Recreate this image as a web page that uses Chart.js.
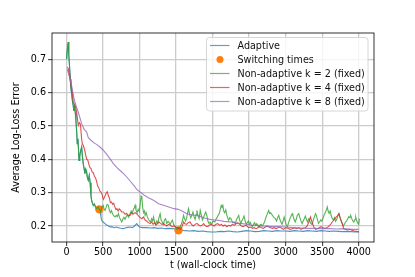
<!DOCTYPE html>
<html>
<head>
<meta charset="utf-8">
<script src="https://cdn.jsdelivr.net/npm/chart.js@4"></script>
<style>
  html, body { margin: 0; padding: 0; background: #fff; }
  #wrap { width: 415px; height: 277px; }
</style>
</head>
<body>
<div id="wrap"><canvas id="chart" width="415" height="277"></canvas></div>
<script>
// ---- data ----
const xTicks = [0, 500, 1000, 1500, 2000, 2500, 3000, 3500, 4000];
const yTicks = [0.2, 0.3, 0.4, 0.5, 0.6, 0.7];

// k = 2 (fixed)
const k2T = [0,10,22,30,40,50,59,68,80,91,100,110,119,128,137,146,155,163,170,180,192,206,218,229,240,251,262,274,285,297,310,322,334,343,355,366,380,395,412,430,448,
  465,480,500,515,526,540,555,572,585,600,615,630,648,663,680,695,710,725,740,755,770,785,800,815,830,850,869,885,900,915,928,938,950,965,980,995,
  1010,1020,1030,1042,1055,1068,1075,1090,1105,1120,1135,1150,1165,1180,1190,1205,1220,1235,1250,1265,1281,1295,1310,1327,1340,1355,1372,1390,1405,1419,1435,1450,1465,1480,1495,
  1510,1525,1540,1555,1570,1585,1602,1615,1630,1645,1658,1670,1685,1700,1715,1730,1745,1760,1775,1785,1800,1815,1830,1845,1860,1875,1890,1905,1922,1935,1950,1965,1980,1995,
  2010,2030,2045,2060,2075,2090,2105,2118,2128,2140,2152,2165,2180,2195,2210,2219,2235,2250,2265,2280,2295,2311,2325,2340,2357,2370,2385,2400,2415,2430,2445,2460,2475,2490,
  2505,2517,2530,2545,2560,2575,2590,2605,2620,2635,2650,2665,2680,2695,2710,2725,2740,2755,2768,2780,2795,2810,2825,2840,2860,2875,2890,2906,2920,2935,2950,2965,2980,2998,
  3010,3025,3040,3055,3070,3089,3100,3115,3130,3145,3160,3180,3195,3210,3226,3240,3255,3270,3285,3300,3318,3330,3345,3360,3375,3390,3409,3420,3435,3450,3465,3480,3495,
  3510,3525,3547,3560,3570,3582,3595,3610,3625,3640,3655,3670,3684,3700,3715,3730,3745,3760,3775,3790,3805,3820,3835,3850,3865,3880,3890,3905,3920,3935,3950,3959,3970,3985,4000,4010];
const k2V = [0.700,0.730,0.752,0.715,0.680,0.640,0.613,0.598,0.575,0.560,0.545,0.558,0.540,0.515,0.487,0.447,0.462,0.430,0.397,0.410,0.425,0.437,0.405,0.385,0.372,0.357,0.370,0.362,0.345,0.337,0.352,0.330,0.290,0.277,0.268,0.262,0.266,0.258,0.252,0.257,0.250,
  0.243,0.255,0.262,0.250,0.247,0.255,0.265,0.262,0.248,0.240,0.246,0.236,0.230,0.227,0.232,0.228,0.237,0.225,0.219,0.212,0.220,0.226,0.220,0.228,0.233,0.226,0.237,0.245,0.238,0.250,0.255,0.262,0.248,0.240,0.250,0.243,
  0.268,0.290,0.287,0.255,0.240,0.245,0.232,0.240,0.228,0.220,0.215,0.212,0.222,0.215,0.227,0.212,0.205,0.215,0.208,0.225,0.237,0.218,0.212,0.205,0.218,0.222,0.208,0.214,0.210,0.205,0.213,0.218,0.205,0.200,0.195,
  0.190,0.196,0.193,0.198,0.205,0.215,0.232,0.222,0.215,0.225,0.240,0.252,0.235,0.225,0.232,0.242,0.228,0.220,0.235,0.247,0.230,0.222,0.247,0.232,0.218,0.225,0.235,0.242,0.230,0.215,0.207,0.212,0.205,0.210,
  0.215,0.212,0.220,0.225,0.232,0.237,0.250,0.262,0.258,0.262,0.245,0.240,0.248,0.232,0.222,0.217,0.225,0.222,0.215,0.210,0.212,0.207,0.218,0.225,0.232,0.218,0.207,0.215,0.222,0.230,0.215,0.205,0.210,0.215,
  0.205,0.210,0.202,0.198,0.205,0.210,0.202,0.207,0.200,0.197,0.203,0.205,0.200,0.205,0.212,0.222,0.232,0.240,0.247,0.238,0.240,0.235,0.230,0.225,0.222,0.215,0.225,0.232,0.220,0.212,0.205,0.215,0.227,0.210,
  0.202,0.198,0.210,0.220,0.228,0.237,0.230,0.220,0.212,0.220,0.232,0.237,0.225,0.215,0.207,0.215,0.222,0.230,0.220,0.212,0.222,0.215,0.207,0.205,0.215,0.225,0.237,0.232,0.220,0.208,0.212,0.218,0.215,
  0.222,0.232,0.242,0.250,0.257,0.245,0.238,0.245,0.230,0.222,0.218,0.225,0.214,0.220,0.230,0.237,0.225,0.215,0.207,0.200,0.205,0.212,0.215,0.222,0.228,0.225,0.232,0.222,0.215,0.212,0.220,0.227,0.218,0.210,0.205,0.222];

// k = 4 (fixed)
const k4T = [10,22,35,46,58,68,80,91,105,120,137,150,160,175,190,206,218,229,245,260,275,290,305,320,335,350,365,380,395,410,425,440,455,470,485,503,515,530,545,556,570,585,
  600,615,630,645,660,675,690,705,720,740,755,777,800,820,845,869,890,910,935,961,985,1010,1030,1052,1075,1095,1120,1144,1165,1185,1205,1225,1245,1265,1285,1305,1327,1350,1373,1395,
  1420,1445,1470,1495,1520,1540,1560,1580,1602,1620,1645,1665,1690,1710,1735,1760,1785,1810,1830,1855,1876,1895,1920,1945,1970,1995,2020,2045,2070,2095,2120,2145,2170,2195,
  2220,2245,2270,2295,2320,2345,2370,2395,2420,2445,2470,2495,2520,2545,2570,2595,2620,2645,2670,2695,2720,2745,2770,2795,2820,2845,2870,2895,2920,2945,2970,3000,3030,3060,
  3090,3120,3150,3180,3210,3240,3270,3295,3318,3340,3360,3386,3410,3435,3460,3485,3510,3535,3560,3585,3610,3638,3660,3685,3705,3730,3750,3776,3795,3820,3850,3880,3910,3940,3970,4004];
const k4V = [0.677,0.673,0.655,0.643,0.625,0.613,0.598,0.572,0.565,0.560,0.542,0.520,0.502,0.510,0.505,0.460,0.445,0.442,0.430,0.415,0.400,0.398,0.385,0.375,0.372,0.362,0.360,0.350,0.345,0.335,0.320,0.315,0.305,0.302,0.295,0.280,0.285,0.292,0.300,0.303,0.292,0.285,
  0.270,0.272,0.265,0.268,0.258,0.250,0.252,0.245,0.252,0.247,0.242,0.242,0.235,0.238,0.232,0.232,0.240,0.235,0.240,0.237,0.230,0.225,0.222,0.227,0.218,0.215,0.210,0.207,0.212,0.205,0.210,0.203,0.208,0.212,0.208,0.205,0.207,0.203,0.200,0.205,
  0.202,0.198,0.200,0.197,0.195,0.192,0.190,0.198,0.212,0.207,0.205,0.210,0.212,0.205,0.200,0.205,0.208,0.203,0.200,0.202,0.207,0.202,0.198,0.200,0.205,0.203,0.200,0.205,0.207,0.202,0.205,0.200,0.203,0.198,
  0.202,0.200,0.205,0.202,0.207,0.210,0.205,0.200,0.198,0.202,0.200,0.195,0.197,0.193,0.195,0.192,0.195,0.198,0.195,0.193,0.197,0.200,0.197,0.195,0.193,0.195,0.192,0.195,0.197,0.193,0.190,0.195,0.193,0.190,
  0.192,0.195,0.192,0.195,0.190,0.193,0.195,0.200,0.212,0.227,0.212,0.197,0.190,0.192,0.195,0.198,0.195,0.193,0.195,0.198,0.203,0.212,0.218,0.225,0.230,0.237,0.222,0.207,0.192,0.190,0.188,0.190,0.187,0.185,0.184,0.182];

// k = 8 (fixed)
const k8T = [10,30,50,70,90,110,130,150,175,206,240,275,297,330,370,410,457,500,550,600,640,690,740,790,824,870,920,961,1006,1060,1120,1190,1260,1327,1400,1470,1530,1580,1648,1720,1785,1850,1899,1968,
  2030,2082,2150,2200,2265,2330,2400,2448,2520,2580,2631,2700,2760,2820,2900,3000,3100,3200,3300,3400,3500,3600,3700,3800,3900,4000];
const k8V = [0.670,0.655,0.640,0.620,0.595,0.575,0.560,0.548,0.530,0.507,0.490,0.482,0.465,0.458,0.450,0.445,0.437,0.428,0.415,0.400,0.387,0.375,0.365,0.355,0.347,0.335,0.322,0.310,0.302,0.293,0.285,0.277,0.267,0.262,0.257,0.252,0.250,0.245,0.237,0.233,0.232,0.227,0.223,0.220,
  0.218,0.217,0.214,0.213,0.212,0.208,0.207,0.206,0.203,0.202,0.202,0.200,0.199,0.198,0.198,0.197,0.195,0.194,0.193,0.193,0.192,0.192,0.191,0.192,0.190,0.190];

// adaptive: follows k = 2 until the first switch, then its own curve
const adaptTailT = [460,470,480,500,526,550,575,596,620,650,680,710,740,777,810,840,869,900,930,961,985,1010,1050,1098,1150,1200,1250,1300,1350,1400,1450,1500,1533,1570,1620,1680,1740,1800,1860,1920,1980,
  2040,2100,2160,2220,2280,2340,2400,2460,2520,2580,2640,2700,2760,2820,2880,2940,3000,3060,3120,3180,3240,3300,3360,3420,3480,3540,3600,3660,3720,3780,3840,3900,3960,4000];
const adaptTailV = [0.240,0.228,0.217,0.212,0.207,0.203,0.200,0.197,0.198,0.195,0.197,0.195,0.193,0.192,0.195,0.196,0.197,0.195,0.200,0.207,0.200,0.196,0.195,0.195,0.194,0.195,0.193,0.194,0.192,0.193,0.192,0.191,0.187,0.188,0.186,0.185,0.186,0.184,0.185,0.183,0.182,
  0.182,0.184,0.183,0.185,0.183,0.182,0.184,0.186,0.185,0.183,0.184,0.186,0.185,0.184,0.186,0.185,0.185,0.184,0.186,0.185,0.184,0.186,0.185,0.184,0.186,0.185,0.184,0.185,0.184,0.183,0.184,0.183,0.182,0.182];

const switchT = [448, 1533];
const switchV = [0.250, 0.187];

const legendLabels = ['Adaptive', 'Switching times', 'Non-adaptive k = 2 (fixed)', 'Non-adaptive k = 4 (fixed)', 'Non-adaptive k = 8 (fixed)'];
const colors = ['#1f77b4', '#ff7f0e', '#2ca02c', '#d62728', '#9467bd'];

// ---- build datasets ----
const pts = (ts, vs) => ts.map((t, i) => ({ x: t, y: vs[i] }));
const switchIdx = k2T.indexOf(switchT[0]);
const adaptT = k2T.slice(0, switchIdx + 1).concat(adaptTailT);
const adaptV = k2V.slice(0, switchIdx + 1).concat(adaptTailV);

const FONT = 'DejaVu Sans';
const fade = (hex, a) => {
    const n = parseInt(hex.slice(1), 16);
    return `rgba(${n >> 16}, ${(n >> 8) & 255}, ${n & 255}, ${a})`;
};

// frame + legend drawn on top
const framePlugin = {
    id: 'frame',
    afterDatasetsDraw(chart) {
        const { ctx, chartArea: a } = chart;
        ctx.save();
        ctx.strokeStyle = '#000';
        ctx.lineWidth = 0.8;
        ctx.strokeRect(a.left, a.top, a.right - a.left, a.bottom - a.top);
        ctx.restore();
    },
    afterDraw(chart) {
        const ctx = chart.ctx;
        const bx = 206.5, by = 37.5, bw = 161.5, bh = 73.5;
        ctx.save();
        ctx.beginPath();
        ctx.roundRect(bx, by, bw, bh, 3);
        ctx.fillStyle = 'rgba(255,255,255,0.8)';
        ctx.fill();
        ctx.strokeStyle = '#d6d6d6';
        ctx.lineWidth = 1;
        ctx.stroke();
        ctx.font = `9.6px "${FONT}"`;
        ctx.textBaseline = 'middle';
        ctx.textAlign = 'left';
        legendLabels.forEach((label, i) => {
            const y = 45.5 + i * 14;
            if (i === 1) {
                ctx.beginPath();
                ctx.arc(220, y, 3.5, 0, Math.PI * 2);
                ctx.fillStyle = colors[i];
                ctx.fill();
            } else {
                ctx.beginPath();
                ctx.moveTo(210, y);
                ctx.lineTo(229.5, y);
                ctx.strokeStyle = fade(colors[i], 0.7);
                ctx.lineWidth = 1.2;
                ctx.stroke();
            }
            ctx.fillStyle = '#111';
            ctx.fillText(label, 237.5, y + 0.5);
        });
        ctx.restore();
    }
};

const lineSet = (label, data, color, order) => ({
    label, data, order,
    borderColor: fade(color, 0.8),
    borderWidth: 1.1,
    pointRadius: 0,
    tension: 0,
    fill: false
});

new Chart(document.getElementById('chart'), {
    type: 'line',
    data: {
        datasets: [
            lineSet(legendLabels[4], pts(k8T, k8V), colors[4], 0),
            lineSet(legendLabels[3], pts(k4T, k4V), colors[3], 1),
            lineSet(legendLabels[2], pts(k2T, k2V), colors[2], 2),
            {
                label: legendLabels[1], type: 'scatter', order: 3,
                data: pts(switchT, switchV),
                pointRadius: 4.2, pointBorderWidth: 0,
                backgroundColor: colors[1], borderColor: colors[1]
            },
            lineSet(legendLabels[0], pts(adaptT, adaptV), colors[0], 4)
        ]
    },
    options: {
        responsive: false,
        animation: false,
        events: [],
        layout: { padding: { left: 0, right: 41, top: 33, bottom: 0 } },
        plugins: { legend: { display: false }, tooltip: { enabled: false } },
        scales: {
            x: {
                type: 'linear',
                min: -200, max: 4210,
                afterFit: (s) => { s.height = 35; },
                afterBuildTicks: (s) => { s.ticks = xTicks.map(v => ({ value: v })); },
                ticks: { color: '#000', font: { family: FONT, size: 9.6 }, padding: 1, maxRotation: 0, callback: (v) => String(v) },
                grid: { color: '#cccccc', lineWidth: 1.3, tickLength: 4, tickColor: '#000', tickWidth: 0.8 },
                border: { display: false },
                title: { display: true, text: 't (wall-clock time)', color: '#000', font: { family: FONT, size: 9.6 }, padding: { top: 0, bottom: 6 } }
            },
            y: {
                type: 'linear',
                min: 0.152, max: 0.779,
                afterFit: (s) => { s.width = 52; },
                afterBuildTicks: (s) => { s.ticks = yTicks.map(v => ({ value: v })); },
                ticks: { color: '#000', font: { family: FONT, size: 9.6 }, padding: 2, callback: (v) => v.toFixed(1) },
                grid: { color: '#cccccc', lineWidth: 1.3, tickLength: 4, tickColor: '#000', tickWidth: 0.8 },
                border: { display: false },
                title: { display: true, text: 'Average Log-Loss Error', color: '#000', font: { family: FONT, size: 9.6 }, padding: { top: 11, bottom: 0 } }
            }
        }
    },
    plugins: [framePlugin]
});
</script>
</body>
</html>
